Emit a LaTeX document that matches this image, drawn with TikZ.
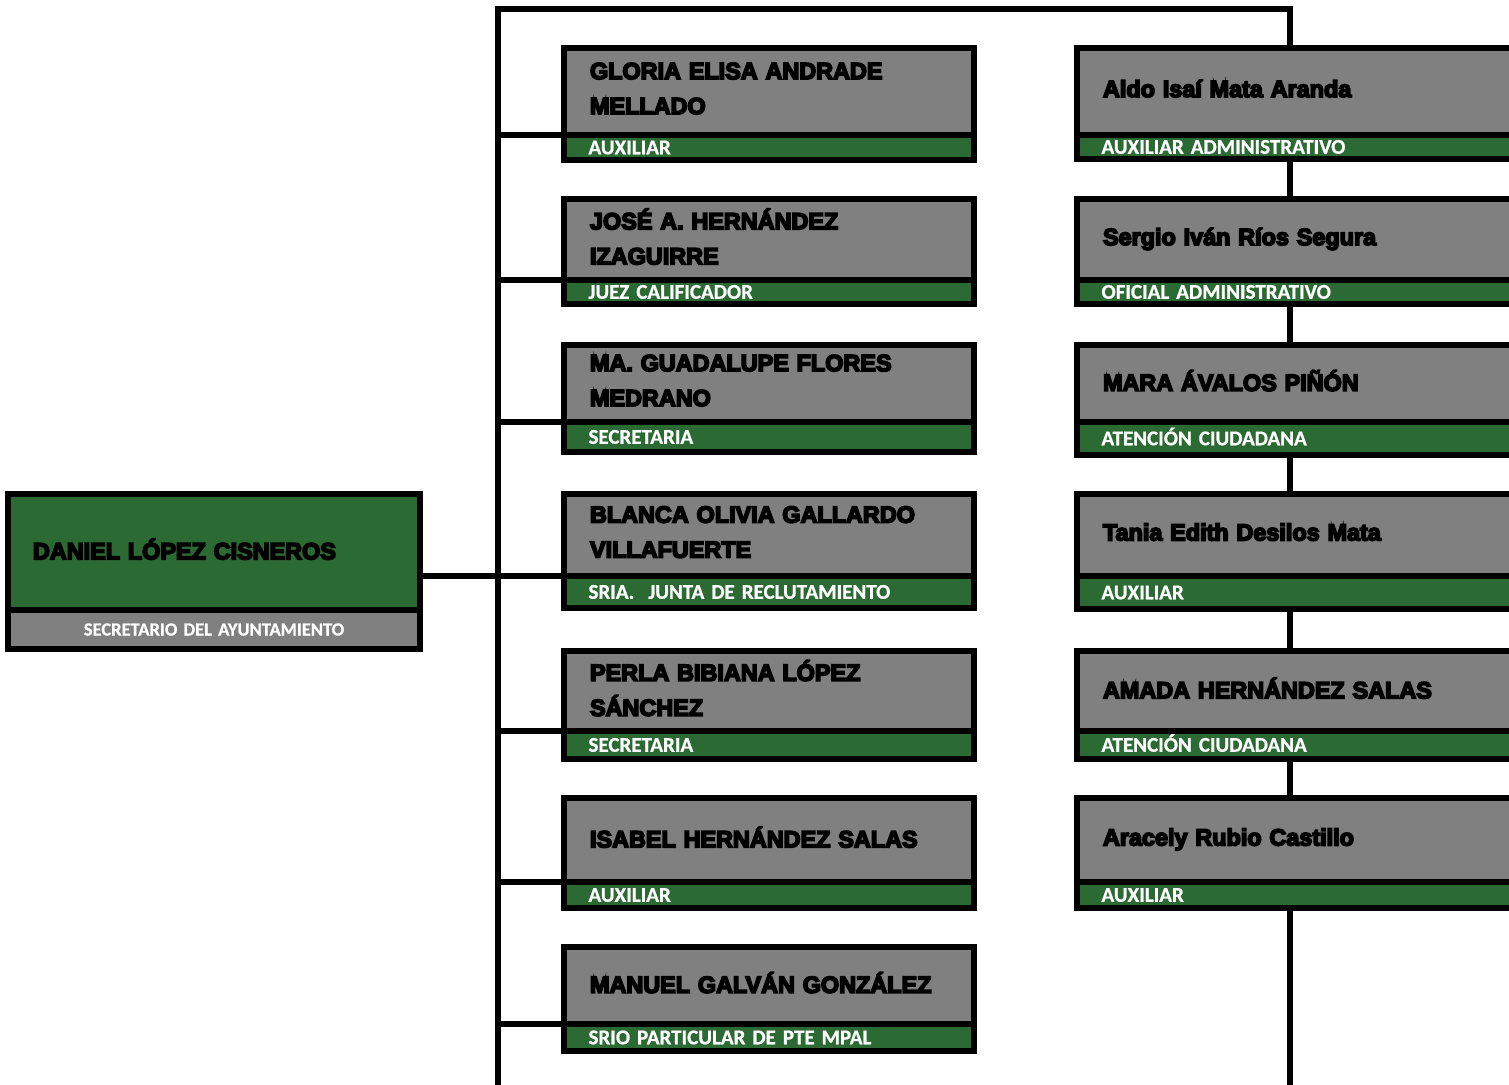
\documentclass[tikz,border=0pt]{standalone}
\usepackage{fontspec}
\usepackage{tikz}
\newfontfamily\namefont{Liberation Sans}[BoldFeatures={FakeBold=7}]
\newfontfamily\rolefont{Carlito}[BoldFeatures={FakeBold=0.8}]
\definecolor{boxgreen}{RGB}{44,106,52}
\definecolor{boxgray}{RGB}{128,128,128}

\begin{document}
\begin{tikzpicture}[x=1pt,y=-1pt,link/.style={line width=6pt},namebox/.style={draw=black,line width=6pt,outer sep=0pt,fill=boxgray,anchor=south west,minimum width=410pt,text width=358pt,inner xsep=26pt,inner ysep=0pt,align=left,execute at end node={\rule[-6pt]{0pt}{0pt}},font=\namefont\bfseries\fontsize{23.4}{35}\selectfont},rolebox/.style={draw=black,line width=6pt,outer sep=0pt,fill=boxgreen,anchor=north west,minimum width=410pt,text width=361pt,inner xsep=24.5pt,inner ysep=0pt,align=left,text=white,text height=13.5pt,text depth=0pt,font=\rolefont\bfseries\fontsize{21}{21}\selectfont},nameboxR/.style={namebox,minimum width=470pt,text width=418pt},roleboxR/.style={rolebox,minimum width=470pt,text width=421pt},bossbox/.style={namebox,fill=boxgreen,minimum width=412pt,text width=362pt,inner xsep=25pt},bossrole/.style={rolebox,fill=boxgray,minimum width=412pt,text width=412pt,inner xsep=0pt,align=center,text height=12pt,font=\rolefont\bfseries\fontsize{18.5}{18.5}\selectfont}]
\def\lx{564}
\def\rx{1077}

\path[use as bounding box] (0,0) rectangle (1509,1084);
\clip (0,0) rectangle (1509,1084);

% trunks
\coordinate (LT) at (498,9);
\coordinate (LB) at (498,1090);
\coordinate (RT) at (1290,9);
\coordinate (RB) at (1290,1090);
\draw[link] (LB) -- (LT) -- (RT) -- (RB);

% head
\node[bossbox,minimum height=116pt] (boss) at (8,610) {DANIEL LÓPEZ CISNEROS};
\node[bossrole,minimum height=39pt] (bossr) at (8,610) {SECRETARIO DEL AYUNTAMIENTO};

% left column
\node[namebox,minimum height=87pt] (L1) at (\lx,135) {GLORIA ELISA ANDRADE\\MELLADO};
\node[rolebox,minimum height=25pt] (L1r) at (\lx,135) {AUXILIAR};
\node[namebox,minimum height=81pt] (L2) at (\lx,280) {JOSÉ A. HERNÁNDEZ\\IZAGUIRRE};
\node[rolebox,minimum height=24pt] (L2r) at (\lx,280) {JUEZ CALIFICADOR};
\node[namebox,minimum height=77pt] (L3) at (\lx,422) {MA. GUADALUPE FLORES\\MEDRANO};
\node[rolebox,minimum height=30pt] (L3r) at (\lx,422) {SECRETARIA};
\node[namebox,minimum height=82pt] (L4) at (\lx,576) {BLANCA OLIVIA GALLARDO\\VILLAFUERTE};
\node[rolebox,minimum height=32pt] (L4r) at (\lx,576) {SRIA.\ \ JUNTA DE RECLUTAMIENTO};
\node[namebox,minimum height=80pt] (L5) at (\lx,731) {PERLA BIBIANA LÓPEZ\\SÁNCHEZ};
\node[rolebox,minimum height=28pt] (L5r) at (\lx,731) {SECRETARIA};
\node[namebox,minimum height=84pt] (L6) at (\lx,882) {ISABEL HERNÁNDEZ SALAS};
\node[rolebox,minimum height=26pt] (L6r) at (\lx,882) {AUXILIAR};
\node[namebox,minimum height=77pt] (L7) at (\lx,1024) {MANUEL GALVÁN GONZÁLEZ};
\node[rolebox,minimum height=27pt] (L7r) at (\lx,1024) {SRIO PARTICULAR DE PTE MPAL};

% right column
\node[nameboxR,minimum height=87pt] (R1) at (\rx,135) {Aldo Isaí Mata Aranda};
\node[roleboxR,minimum height=24pt] (R1r) at (\rx,135) {AUXILIAR ADMINISTRATIVO};
\node[nameboxR,minimum height=81pt] (R2) at (\rx,280) {Sergio Iván Ríos Segura};
\node[roleboxR,minimum height=24pt] (R2r) at (\rx,280) {OFICIAL ADMINISTRATIVO};
\node[nameboxR,minimum height=77pt] (R3) at (\rx,422) {MARA ÁVALOS PIÑÓN};
\node[roleboxR,minimum height=33pt] (R3r) at (\rx,422) {ATENCIÓN CIUDADANA};
\node[nameboxR,minimum height=82pt] (R4) at (\rx,576) {Tania Edith Desilos Mata};
\node[roleboxR,minimum height=33pt] (R4r) at (\rx,576) {AUXILIAR};
\node[nameboxR,minimum height=80pt] (R5) at (\rx,731) {AMADA HERNÁNDEZ SALAS};
\node[roleboxR,minimum height=28pt] (R5r) at (\rx,731) {ATENCIÓN CIUDADANA};
\node[nameboxR,minimum height=84pt] (R6) at (\rx,882) {Aracely Rubio Castillo};
\node[roleboxR,minimum height=26pt] (R6r) at (\rx,882) {AUXILIAR};

% branches
\draw[link] (boss.east |- L4r.north west) -- (L4r.north west);
\draw[link] (LT |- L1r.north west) -- (L1r.north west);
\draw[link] (LT |- L2r.north west) -- (L2r.north west);
\draw[link] (LT |- L3r.north west) -- (L3r.north west);
\draw[link] (LT |- L5r.north west) -- (L5r.north west);
\draw[link] (LT |- L6r.north west) -- (L6r.north west);
\draw[link] (LT |- L7r.north west) -- (L7r.north west);
\end{tikzpicture}
\end{document}
